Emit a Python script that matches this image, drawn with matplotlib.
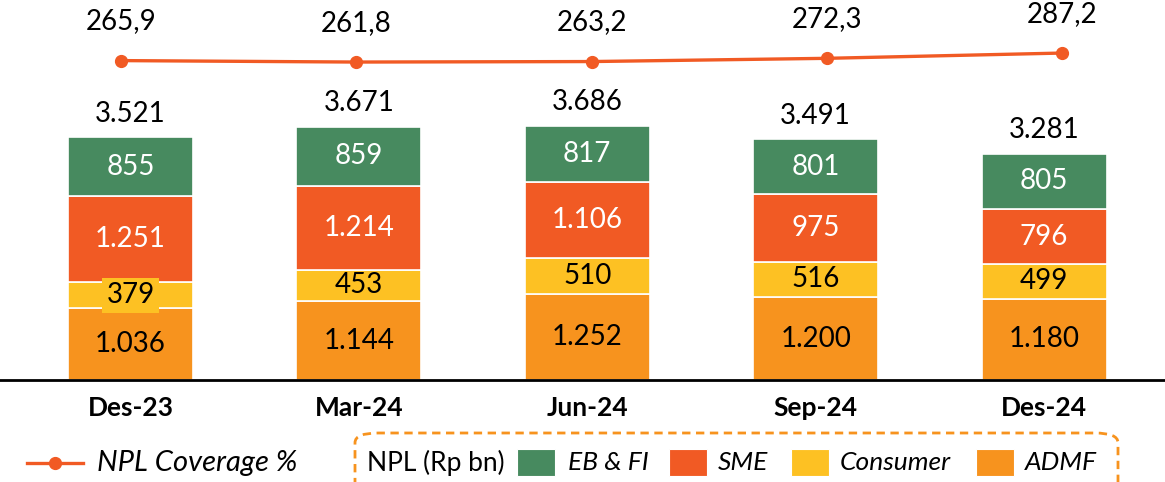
import matplotlib.pyplot as plt
import numpy as np
from matplotlib.patches import FancyBboxPatch, Rectangle
from matplotlib.lines import Line2D

plt.rcParams["font.family"] = ["Lato", "DejaVu Sans"]

# quarters and NPL by segment (Rp bn)
periods = ["Des-23", "Mar-24", "Jun-24", "Sep-24", "Des-24"]
admf = [1036, 1144, 1252, 1200, 1180]
consumer = [379, 453, 510, 516, 499]
sme = [1251, 1214, 1106, 975, 796]
eb_fi = [855, 859, 817, 801, 805]
npl_total = [3521, 3671, 3686, 3491, 3281]
npl_coverage = [265.9, 261.8, 263.2, 272.3, 287.2]

GREEN = "#478A5F"
RED = "#F15A24"
YELLOW = "#FDC123"
ORANGE = "#F7931E"


def fmt_id(v):
    # Indonesian thousands separator
    return f"{v:,}".replace(",", ".")


fig = plt.figure(figsize=(11.65, 4.82), dpi=100)
W, H = 1165, 482
pos = [0, (H - 380) / H, 1, 380 / H]
ax = fig.add_axes(pos)
x = np.arange(len(periods))
step = 228.4
left = -130.5 / step
ax.set_xlim(left, left + W / step)
ax.set_ylim(0, 5506)
ax.axis("off")

segments = [
    (admf, ORANGE, "black"),
    (consumer, YELLOW, "black"),
    (sme, RED, "white"),
    (eb_fi, GREEN, "white"),
]
bottom = np.zeros(len(periods))
for vals, color, tcol in segments:
    vals = np.array(vals, dtype=float)
    ax.bar(x, vals, width=0.547, bottom=bottom, color=color,
           edgecolor="white", linewidth=1.2)
    for i, v in enumerate(vals):
        bbox = None
        if color == YELLOW and v < 400:
            bbox = dict(boxstyle="square,pad=0.15", fc=YELLOW, ec="none")
        ax.text(x[i], bottom[i] + v / 2, fmt_id(int(v)), ha="center",
                va="center", fontsize=20, color=tcol, bbox=bbox)
    bottom += vals

for i, tot in enumerate(npl_total):
    ax.text(x[i], bottom[i] + 340, fmt_id(tot), ha="center", va="center",
            fontsize=20, color="black")

ax.axhline(0, color="black", linewidth=2, clip_on=False)
for i, p in enumerate(periods):
    ax.text(x[i], -410, p, ha="center", va="center", fontsize=19,
            fontweight="bold", clip_on=False)

# NPL coverage line on its own scale
ax2 = fig.add_axes(pos, frameon=False)
step2 = 235.25
left2 = -121 / step2
ax2.set_xlim(left2, left2 + W / step2)
ax2.set_ylim(-636, 437)
ax2.axis("off")
ax2.plot(x, npl_coverage, color=RED, linewidth=2.4, marker="o",
         markersize=8.5)
for i, v in enumerate(npl_coverage):
    ax2.text(x[i], v + 111, f"{v:.1f}".replace(".", ","), ha="center",
             va="center", fontsize=20)


# legend drawn by hand at the bottom
def fx(px):
    return px / W


def fy(py):
    return 1 - py / H


ly = fy(463)
fig.add_artist(Line2D([fx(27), fx(55), fx(83)], [ly, ly, ly], color=RED,
                      linewidth=2.4, marker="o", markersize=8.5,
                      markevery=[1], transform=fig.transFigure))
fig.text(fx(97), ly, "NPL Coverage %", fontsize=21, style="italic",
         va="center", ha="left")

box = FancyBboxPatch((fx(355), fy(500)), fx(1118 - 355), fy(433) - fy(500),
                     boxstyle="round,pad=0,rounding_size=0.02",
                     transform=fig.transFigure, fill=False, ec=ORANGE,
                     linewidth=2, linestyle=(0, (3, 2)))
fig.add_artist(box)
fig.text(fx(367), ly, "NPL (Rp bn)", fontsize=19, va="center", ha="left")

legend_items = [("EB & FI", GREEN, 517, 568), ("SME", RED, 669, 718),
                ("Consumer", YELLOW, 791, 840), ("ADMF", ORANGE, 976, 1025)]
for label, color, sx, tx in legend_items:
    fig.add_artist(Rectangle((fx(sx), fy(476)), fx(38), fy(449) - fy(476),
                             transform=fig.transFigure, fc=color,
                             ec="white", linewidth=0.8))
    fig.text(fx(tx), ly, label, fontsize=19, style="italic", va="center",
             ha="left")

fig.savefig("out.png", dpi=100)
